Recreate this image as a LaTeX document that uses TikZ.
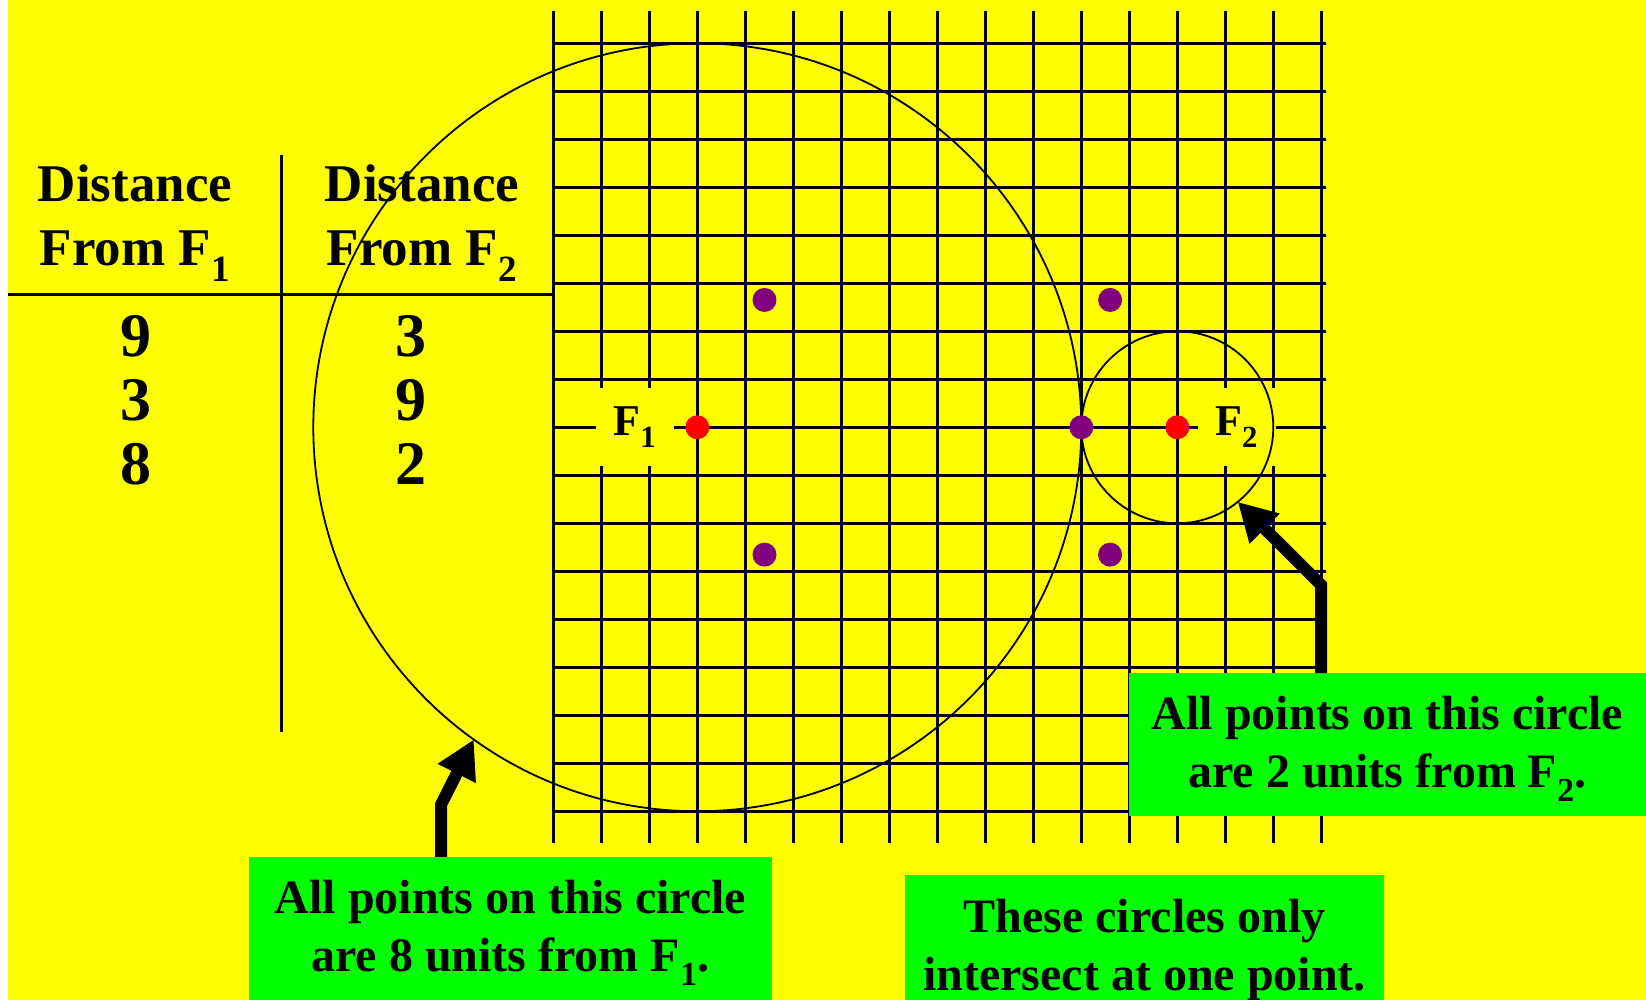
\documentclass[tikz,border=0pt]{standalone}
\usepackage{fontspec}
\setmainfont{Liberation Serif}
\usetikzlibrary{arrows.meta, positioning}

\definecolor{bgyellow}{RGB}{255,255,0}
\definecolor{notegreen}{RGB}{0,255,0}
\definecolor{dotpurple}{RGB}{128,0,128}

\newcommand{\upstrut}{\rule{0pt}{41.6pt}}
\newcommand{\dnstrut}{\rule[-12pt]{0pt}{12pt}}

\begin{document}
\begin{tikzpicture}[
x=1pt, y=1pt,
gridline/.style={line width=2.6pt},
tableline/.style={line width=3pt},
ring/.style={line width=1.8pt},
focus/.style={
circle,
fill=red,
inner sep=0pt,
minimum size=24pt
},
hit/.style={
circle,
fill=dotpurple,
inner sep=0pt,
minimum size=24pt
},
flabel/.style={
fill=bgyellow,
inner sep=0pt,
minimum width=78pt,
minimum height=78pt,
font=\fontsize{44}{50}\selectfont\bfseries
},
head/.style={
align=center,
inner sep=0pt,
font=\fontsize{53}{64}\selectfont\bfseries
},
nums/.style={
align=center,
inner sep=0pt,
font=\fontsize{62}{64}\selectfont\bfseries
},
note/.style={
rectangle,
fill=notegreen,
align=center,
inner sep=0pt,
minimum width=523pt,
minimum height=143pt,
font=\fontsize{48}{58}\selectfont\bfseries
},
fatarrow/.style={line width=12pt, -{Triangle[length=38pt, width=40pt]}}
]

\useasboundingbox (0,0) rectangle (1646,1000);
\fill[white] (0,0) rectangle (8,1000);
\fill[bgyellow] (8,0) rectangle (1646,1000);

% Table
\node[head, anchor=north] (headA) at (135,835) {Distance\\From F\textsubscript{1}};
\node[head, anchor=north] (headB) at (422,835) {Distance\\From F\textsubscript{2}};
\node[nums, anchor=north] (numA) at (136,685) {9\\3\\8};
\node[nums, anchor=north] (numB) at (411,685) {3\\9\\2};
\draw[tableline] (281,845) -- (281,268);
\draw[tableline] (8,705) -- (553.3,705);

% Grid (unit = one square, origin at F1)
\begin{scope}[shift={(697.3pt,572.7pt)}, x=48pt, y=48pt]
\foreach \u in {-3,...,13}
  \draw[gridline] (\u,-8.67) -- (\u,8.67);
\foreach \v in {-8,...,8}
  \draw[gridline] (-3.03,\v) -- (13.1,\v);

% Foci
\node[focus] (f1) at (0,0) {};
\node[focus] (f2) at (10,0) {};
\node[flabel, left=11pt of f1] (lab1) {F\textsubscript{1}};
\node[flabel, right=8pt of f2] (lab2) {F\textsubscript{2}};

% Circles
\draw[ring] (f1) circle[radius=8];
\draw[ring] (f2) circle[radius=2];

% Points
\foreach \p [count=\i] in {(8,0), (8.6,2.653), (8.6,-2.653), (1.4,2.653), (1.4,-2.653)}
  \node[hit] (pt\i) at \p {};

\coordinate (tipA) at ([shift={(234.4:8)}]f1);
\coordinate (tipB) at ([shift={(309:2)}]f2);
\end{scope}

% Notes
\node[note] (noteA) at (510.5,71.5)
{\upstrut All points on this circle\\
are 8 units from F\textsubscript{1}.\dnstrut};

\node[note, minimum width=517pt] (noteB) at (1387.5,255.2)
{\upstrut All points on this circle\\
are 2 units from F\textsubscript{2}.\dnstrut};

\node[note, minimum width=479pt] (noteC) at (1144.5,53.5)
{\upstrut These circles only\\
intersect at one point.\dnstrut};

% Arrows
\draw[fatarrow] ([xshift=-69.5pt]noteA.north) -- ++(0,52) -- (tipA);
\draw[fatarrow] ([xshift=-66.5pt]noteB.north) -- ++(0,88.3) -- (tipB);

\end{tikzpicture}
\end{document}
